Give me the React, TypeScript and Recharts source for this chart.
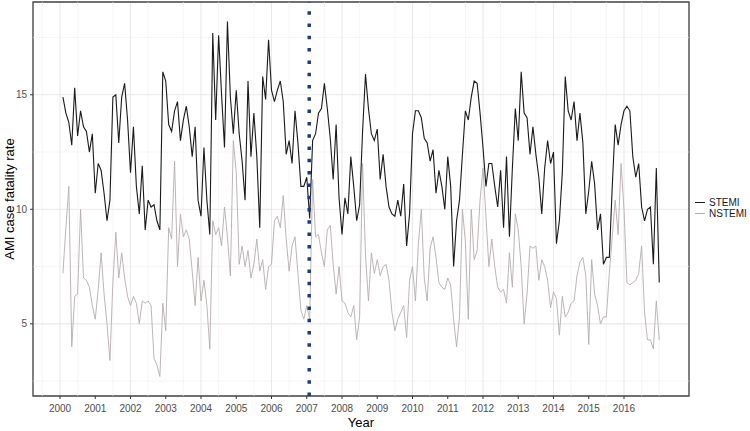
import {
  LineChart,
  Line,
  XAxis,
  YAxis,
  CartesianGrid,
  ReferenceLine,
  ReferenceArea,
  Legend,
} from "recharts";

const FONT = "Arial, 'Liberation Sans', sans-serif";

// monthly case fatality rates, Jan 2000 .. Dec 2016 (12 values per row)
const stemi = [
  14.9, 14.2, 13.8, 12.8, 15.3, 13.2, 14.3, 13.6, 13.4, 12.5, 13.3, 10.7,
  12.0, 11.7, 10.7, 9.5, 10.4, 14.9, 15.0, 12.9, 14.9, 15.5, 13.9, 11.6,
  13.6, 11.0, 9.8, 11.9, 9.1, 10.4, 10.1, 10.2, 9.5, 9.1, 16.0, 15.6,
  13.7, 13.4, 14.3, 14.7, 13.0, 13.9, 14.5, 13.6, 12.3, 13.6, 10.4, 9.7,
  12.7, 10.4, 8.9, 17.7, 13.9, 17.6, 15.0, 12.7, 18.2, 14.9, 13.3, 15.2,
  13.3, 12.1, 10.4, 15.6, 12.3, 14.2, 12.3, 9.2, 15.8, 14.8, 17.4, 15.2,
  14.7, 15.2, 15.6, 14.7, 12.4, 13.0, 12.0, 14.3, 12.9, 11.0, 11.0, 11.4,
  9.6, 13.0, 13.3, 14.2, 14.4, 15.5, 14.4, 13.1, 11.3, 13.7, 10.5, 8.9,
  10.5, 9.8, 12.3, 11.0, 9.5, 10.2, 13.4, 15.9, 14.4, 13.3, 13.0, 13.5,
  11.3, 12.4, 11.0, 10.1, 9.8, 9.7, 10.4, 9.7, 11.1, 8.4, 9.8, 13.3,
  14.3, 14.3, 14.0, 13.1, 12.9, 12.1, 12.6, 10.7, 11.7, 11.0, 10.0, 12.3,
  11.0, 7.5, 9.5, 10.4, 12.4, 14.3, 13.9, 14.9, 15.6, 15.5, 14.2, 12.7,
  11.0, 12.0, 12.0, 11.0, 10.1, 11.7, 9.2, 12.3, 8.8, 11.8, 14.4, 13.0,
  16.0, 14.2, 14.0, 12.4, 13.6, 12.4, 11.4, 9.8, 11.8, 13.0, 12.0, 12.5,
  8.5, 9.5, 11.6, 15.8, 14.3, 13.9, 14.7, 13.0, 14.2, 12.9, 9.8, 10.8,
  12.1, 11.1, 9.1, 9.8, 7.6, 7.9, 7.9, 11.0, 13.7, 12.8, 13.7, 14.3,
  14.5, 14.3, 12.3, 11.4, 12.0, 10.1, 9.5, 10.0, 10.1, 7.6, 11.8, 6.8,
];

const nstemi = [
  7.2, 9.2, 11.0, 4.0, 6.2, 6.3, 10.0, 7.0, 6.9, 6.6, 5.8, 5.2,
  6.5, 8.1, 6.3, 5.0, 3.4, 6.8, 9.0, 7.0, 8.1, 7.0, 6.2, 5.8,
  6.2, 5.9, 5.0, 6.0, 5.9, 6.0, 5.8, 3.5, 3.2, 2.7, 5.9, 4.7,
  9.2, 8.7, 12.1, 7.5, 9.8, 8.8, 9.1, 8.7, 7.3, 5.8, 7.9, 6.0,
  6.9, 5.8, 3.9, 9.5, 8.9, 9.2, 8.4, 10.1, 8.8, 7.1, 13.0, 11.6,
  7.6, 8.4, 7.5, 8.2, 7.0, 7.6, 8.7, 7.3, 7.8, 6.5, 7.5, 7.6,
  9.5, 9.7, 9.2, 10.6, 8.7, 7.3, 8.4, 8.8, 7.2, 5.6, 5.2, 5.8,
  5.2, 11.3, 8.8, 8.9, 8.1, 7.5, 9.1, 9.3, 7.6, 6.3, 7.5, 6.0,
  5.9, 5.5, 5.3, 5.8, 4.3, 5.3, 12.0, 8.0, 6.0, 8.1, 7.2, 7.8,
  7.1, 7.5, 7.6, 6.9, 5.5, 4.7, 5.2, 5.5, 5.8, 4.4, 6.9, 7.5,
  6.0, 8.5, 10.0, 7.0, 6.0, 8.3, 8.8, 7.9, 6.8, 6.6, 6.5, 7.0,
  6.7, 5.2, 4.0, 5.3, 10.0, 8.6, 5.2, 10.0, 7.8, 8.2, 10.4, 11.8,
  9.7, 7.5, 8.7, 7.5, 6.6, 6.4, 6.5, 5.9, 8.1, 6.6, 9.8, 9.1,
  7.5, 5.0, 6.3, 8.4, 8.3, 8.4, 6.9, 7.8, 7.5, 6.9, 5.7, 6.4,
  6.1, 4.5, 6.2, 5.3, 5.5, 5.9, 6.0, 7.1, 7.7, 7.9, 7.1, 4.1,
  7.8, 6.3, 5.8, 5.0, 5.3, 5.3, 7.2, 8.8, 10.4, 8.9, 12.0, 10.0,
  6.8, 6.7, 6.8, 6.9, 7.2, 8.4, 5.5, 4.3, 4.3, 3.9, 6.0, 4.3,
];

const years = [
  2000, 2001, 2002, 2003, 2004, 2005, 2006, 2007, 2008, 2009, 2010, 2011,
  2012, 2013, 2014, 2015, 2016,
];
const yTicks = [5, 10, 15];
const interventionDate = 2007.07;

const data = stemi.map((v, i) => ({
  t: years[0] + (i + 1) / 12,
  stemi: v,
  nstemi: nstemi[i],
}));

const X_MIN = 1999.234;
const X_MAX = 2017.844;
const Y_MIN = 1.85;
const Y_MAX = 19.05;

const minorX = [1999.5, ...years.map((y) => y + 0.5), 2017];
const minorY = [2.5, 7.5, 12.5, 17.5];

const series = [
  { key: "stemi", name: "STEMI", color: "#1a1a1a", width: 1.1 },
  { key: "nstemi", name: "NSTEMI", color: "#b5adad", width: 0.9 },
];

const renderLegend = () => (
  <div style={{ fontFamily: FONT, fontSize: 10, color: "#1a1a1a", lineHeight: "11px" }}>
    {series.map((s) => (
      <div key={s.key} style={{ display: "flex", alignItems: "center", height: 11 }}>
        <span
          style={{
            display: "inline-block",
            width: 10,
            height: 0,
            borderTop: `${s.key === "stemi" ? 1.5 : 1}px solid ${s.color}`,
            marginRight: 4,
          }}
        />
        {s.name}
      </div>
    ))}
  </div>
);

export default function App() {
  return (
    <div style={{ position: "absolute", left: 0, top: 0, width: 750, height: 431, background: "#fff" }}>
      <LineChart
        width={750}
        height={431}
        data={data}
        margin={{ top: 2, right: 61, bottom: 0, left: 0 }}
      >
        {minorX.map((x) => (
          <ReferenceLine key={`mx${x}`} x={x} stroke="#f0f0f0" strokeWidth={0.6} />
        ))}
        {minorY.map((y) => (
          <ReferenceLine key={`my${y}`} y={y} stroke="#f0f0f0" strokeWidth={0.6} />
        ))}
        <CartesianGrid stroke="#e9e9e9" strokeWidth={1.1} />
        <XAxis
          dataKey="t"
          type="number"
          domain={[X_MIN, X_MAX]}
          ticks={years}
          allowDataOverflow
          height={35}
          tickSize={3}
          tickMargin={6}
          axisLine={false}
          tickLine={{ stroke: "#333" }}
          tick={{ fontFamily: FONT, fontSize: 10, fill: "#4d4d4d" }}
          label={{
            value: "Year",
            position: "insideBottom",
            offset: 4,
            style: { fontFamily: FONT, fontSize: 13, fill: "#000" },
          }}
        />
        <YAxis
          type="number"
          domain={[Y_MIN, Y_MAX]}
          ticks={yTicks}
          allowDataOverflow
          width={33}
          tickSize={3}
          tickMargin={3}
          axisLine={false}
          tickLine={{ stroke: "#333" }}
          tick={{ fontFamily: FONT, fontSize: 10, fill: "#4d4d4d" }}
          label={{
            value: "AMI case fatality rate",
            angle: -90,
            position: "insideLeft",
            offset: 9,
            style: { fontFamily: FONT, fontSize: 13, fill: "#000", textAnchor: "middle" },
          }}
        />
        {series
          .slice()
          .reverse()
          .map((s) => (
            <Line
              key={s.key}
              type="linear"
              dataKey={s.key}
              name={s.name}
              stroke={s.color}
              strokeWidth={s.width}
              dot={false}
              activeDot={false}
              isAnimationActive={false}
            />
          ))}
        <ReferenceLine
          x={interventionDate}
          stroke="#1f3a7e"
          strokeWidth={3.5}
          strokeDasharray="3.5 8.8"
        />
        <ReferenceArea
          x1={X_MIN}
          x2={X_MAX}
          y1={Y_MIN}
          y2={Y_MAX}
          fill="none"
          fillOpacity={0}
          stroke="#444"
          strokeWidth={1.3}
        />
        <Legend
          layout="horizontal"
          align="center"
          verticalAlign="middle"
          content={renderLegend}
          wrapperStyle={{ left: 695, top: 197, width: 55 }}
        />
      </LineChart>
    </div>
  );
}
